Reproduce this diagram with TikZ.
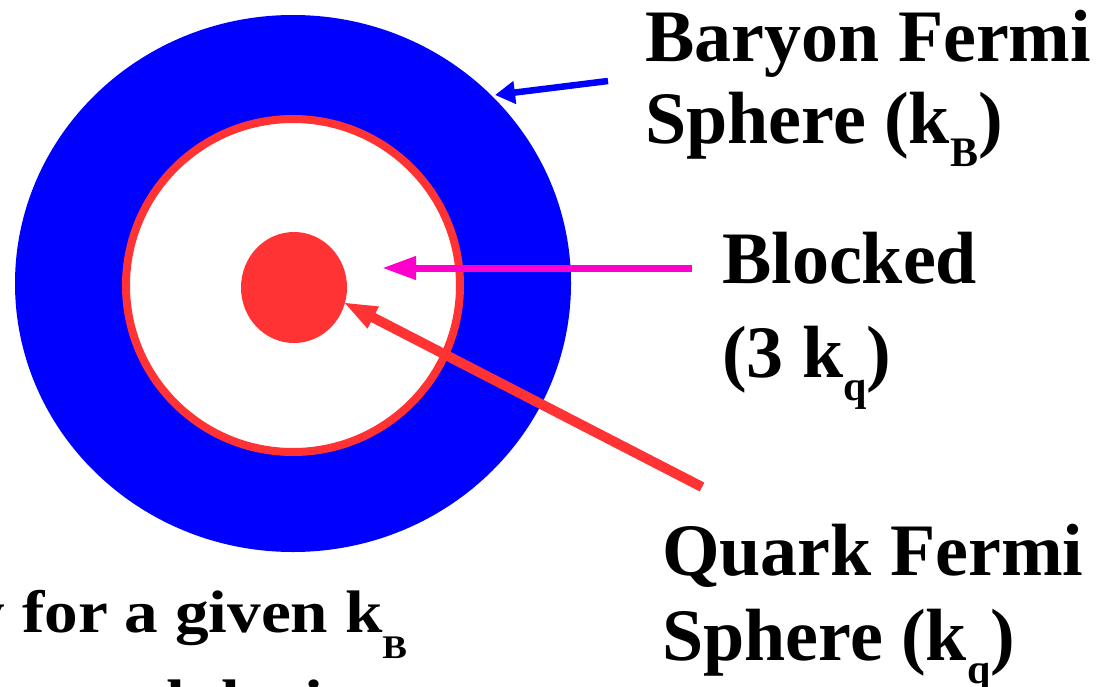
\documentclass[tikz,border=0pt]{standalone}
\usepackage{fontspec}
\setmainfont{Liberation Serif}
\usetikzlibrary{arrows.meta}

\definecolor{ringred}{RGB}{255,51,51}
\definecolor{pointer}{RGB}{255,0,204}
\newcommand{\lowsub}[1]{\raisebox{-23pt}{\fontsize{42}{42}\selectfont #1}}
\newcommand{\lowsubsmall}[1]{\raisebox{-26pt}{\fontsize{33}{33}\selectfont #1}}

\tikzset{
  labeltext/.style={anchor=base west, inner sep=0pt, font=\fontsize{74}{80}\selectfont\bfseries},
  sidetext/.style={anchor=base west, inner sep=0pt, font=\fontsize{60}{66}\selectfont\bfseries},
  pointing/.style={line width=#1, -{Triangle[length=34pt, width=22pt]}}
}

\begin{document}
\begin{tikzpicture}[x=1pt, y=-1pt]
\useasboundingbox (0,0) rectangle (1099,687);

% Spheres
\fill[blue] (293,283.5) ellipse (278 and 268.5);
\draw[ringred, fill=white, line width=8pt] (293,285.5) ellipse (167 and 166.5);
\fill[ringred] (294,287.5) ellipse (53 and 55.5);

% Labels
\node[labeltext] (baryon1) at (645,62) {Baryon Fermi};
\node[labeltext] (baryon2) at (645,144) {Sphere (k\lowsub{B})};
\node[labeltext] (blocked1) at (722,283) {Blocked};
\node[labeltext] (blocked2) at (722,377) {(3 k\lowsub{q})};
\node[labeltext] (quark1) at (662,575) {Quark Fermi};
\node[labeltext] (quark2) at (662,660) {Sphere (k\lowsub{q})};
\node[sidetext] (given) at (22,632) {\scalebox{1.12}[1]{\llap{Probability }for a given k\lowsubsmall{B}}};
\node[sidetext] (density) at (147,721) {\scalebox{1.12}[1]{\llap{mo}dularity}};

% Pointers
\coordinate (baryontail) at (608,81);
\coordinate (baryontip) at (495,95);
\coordinate (blockedtail) at (692,268);
\coordinate (blockedtip) at (382,268);
\coordinate (quarktail) at (702,487);
\coordinate (quarktip) at (343,302);

\draw[blue, line width=6.5pt, -{Triangle[length=20pt, width=22pt]}] (baryontail) -- (baryontip);
\draw[pointer, pointing=7pt] (blockedtail) -- (blockedtip);
\draw[ringred, pointing=10pt] (quarktail) -- (quarktip);

\end{tikzpicture}
\end{document}
